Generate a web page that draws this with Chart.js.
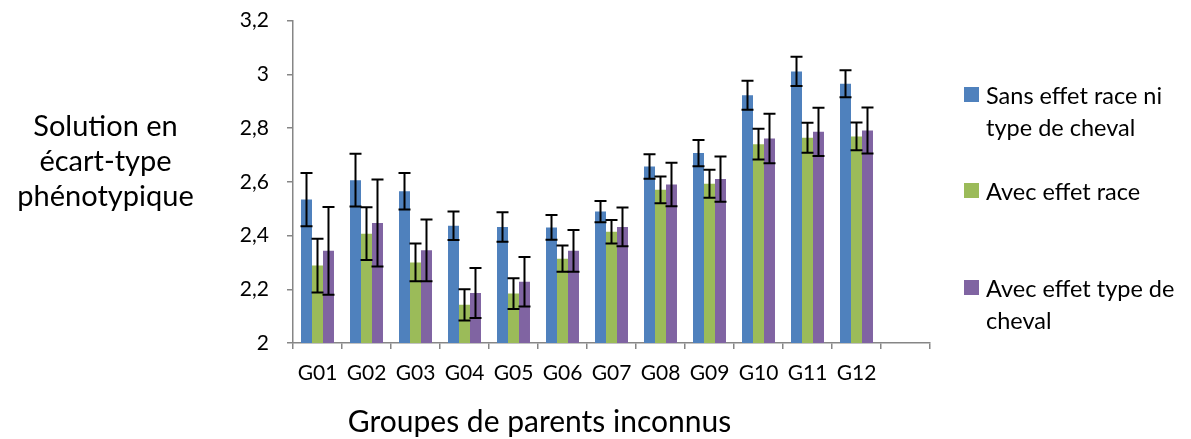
<!DOCTYPE html>
<html>
<head>
<meta charset="utf-8">
<script src="https://cdn.jsdelivr.net/npm/chart.js@4"></script>
<style>
    body { margin: 0; background: #fff; font-family: Lato, sans-serif; color: #000; overflow: hidden; }
    #wrap { position: relative; width: 1191px; height: 439px; overflow: hidden; }
    canvas { position: absolute; left: 0; top: -10px; }
    .ytitle { position: absolute; left: 3px; width: 205px; top: 107px; text-align: center; font-size: 29px; line-height: 35px; }
    .xtitle { position: absolute; left: 267px; width: 545px; top: 403px; text-align: center; font-size: 30px; line-height: 35px; }
    .legend { position: absolute; left: 964px; top: 0; font-size: 23.5px; line-height: 32px; }
    .legend .item { position: absolute; left: 0; width: 230px; }
    .legend .sw { position: absolute; left: 0; top: 8px; width: 15px; height: 15px; }
    .legend .txt { position: absolute; left: 22px; top: 0; white-space: nowrap; }
</style>
</head>
<body>
<div id="wrap">
    <canvas data-chart width="1191" height="449"></canvas>
    <div class="ytitle">Solution en<br>écart-type<br>phénotypique</div>
    <div class="xtitle">Groupes de parents inconnus</div>
    <div class="legend" data-legend></div>
</div>
<script>
const groups = ['G01', 'G02', 'G03', 'G04', 'G05', 'G06', 'G07', 'G08', 'G09', 'G10', 'G11', 'G12', ''];
const yTickLabels = ['2', '2,2', '2,4', '2,6', '2,8', '3', '3,2'];

const sansEffet = [2.534, 2.606, 2.565, 2.436, 2.432, 2.430, 2.489, 2.657, 2.707, 2.922, 3.011, 2.965, null];
const sansEffetErr = [0.099, 0.098, 0.068, 0.053, 0.055, 0.046, 0.040, 0.046, 0.049, 0.054, 0.054, 0.050, null];
const effetRace = [2.288, 2.407, 2.300, 2.142, 2.184, 2.314, 2.414, 2.570, 2.593, 2.740, 2.764, 2.769, null];
const effetRaceErr = [0.100, 0.098, 0.070, 0.058, 0.057, 0.049, 0.044, 0.050, 0.052, 0.057, 0.056, 0.052, null];
const effetType = [2.343, 2.447, 2.345, 2.186, 2.228, 2.343, 2.432, 2.590, 2.610, 2.761, 2.786, 2.791, null];
const effetTypeErr = [0.163, 0.162, 0.115, 0.093, 0.092, 0.078, 0.072, 0.081, 0.084, 0.092, 0.090, 0.086, null];

const seriesNames = [['Sans effet race ni', 'type de cheval'], ['Avec effet race'], ['Avec effet type de', 'cheval']];
const seriesColors = ['#4F81BD', '#9BBB59', '#8064A2'];
const errors = [sansEffetErr, effetRaceErr, effetTypeErr];

const axisGrey = '#868686';
const tickFont = { family: 'Lato', size: 21 };

// error bars drawn on top of the bars, from the y scale
const errorBars = {
    id: 'errorBars',
    afterDatasetsDraw(chart) {
        const ctx = chart.ctx;
        const y = chart.scales.y;
        ctx.save();
        ctx.strokeStyle = '#000';
        ctx.lineWidth = 2;
        chart.data.datasets.forEach((ds, i) => {
            const meta = chart.getDatasetMeta(i);
            meta.data.forEach((bar, j) => {
                const v = ds.data[j];
                const e = errors[i][j];
                if (v == null || e == null) return;
                const top = y.getPixelForValue(v + e);
                const bot = y.getPixelForValue(v - e);
                const cap = 6;
                ctx.beginPath();
                ctx.moveTo(bar.x, top); ctx.lineTo(bar.x, bot);
                ctx.moveTo(bar.x - cap, top); ctx.lineTo(bar.x + cap, top);
                ctx.moveTo(bar.x - cap, bot); ctx.lineTo(bar.x + cap, bot);
                ctx.stroke();
            });
        });
        ctx.restore();
    }
};

const ctx = document.querySelector('[data-chart]').getContext('2d');
const chart = new Chart(ctx, {
    type: 'bar',
    data: {
        labels: groups,
        datasets: [
            { label: seriesNames[0].join(' '), data: sansEffet, backgroundColor: seriesColors[0] },
            { label: seriesNames[1].join(' '), data: effetRace, backgroundColor: seriesColors[1] },
            { label: seriesNames[2].join(' '), data: effetType, backgroundColor: seriesColors[2] }
        ]
    },
    options: {
        responsive: false,
        animation: false,
        layout: {
            padding: { left: 0, right: 261, top: 0, bottom: 0 }
        },
        datasets: {
            bar: {
                barPercentage: 1,
                categoryPercentage: 0.673,
            },
        },
        plugins: {
            legend: { display: false },
            tooltip: { enabled: false }
        },
        scales: {
            x: {
                afterFit: (scale) => { scale.height = 96; },
                border: { color: axisGrey, width: 1.5 },
                grid: {
                    offset: true,
                    drawOnChartArea: false,
                    color: axisGrey,
                    lineWidth: 1.5,
                    tickLength: 6
                },
                ticks: {
                    color: '#000',
                    font: tickFont,
                    padding: 12,
                    maxRotation: 0,
                    autoSkip: false
                }
            },
            y: {
                min: 2,
                max: 3.2,
                afterFit: (scale) => { scale.width = 293; },
                border: { color: axisGrey, width: 1.5 },
                grid: {
                    drawOnChartArea: false,
                    color: axisGrey,
                    lineWidth: 1.5,
                    tickLength: 6
                },
                ticks: {
                    stepSize: 0.2,
                    color: '#000',
                    font: tickFont,
                    padding: 18,
                    callback: (value, index) => yTickLabels[index]
                }
            }
        }
    },
    plugins: [errorBars]
});

// legend built from the series names and colours
const legendTops = [79, 175, 272];
const legendEl = document.querySelector('[data-legend]');
seriesNames.forEach((name, i) => {
    const item = document.createElement('div');
    item.className = 'item';
    item.style.top = legendTops[i] + 'px';
    item.innerHTML = '<div class="sw" style="background:' + seriesColors[i] + '"></div>' +
        '<div class="txt">' + name.join('<br>') + '</div>';
    legendEl.appendChild(item);
});
</script>
</body>
</html>
